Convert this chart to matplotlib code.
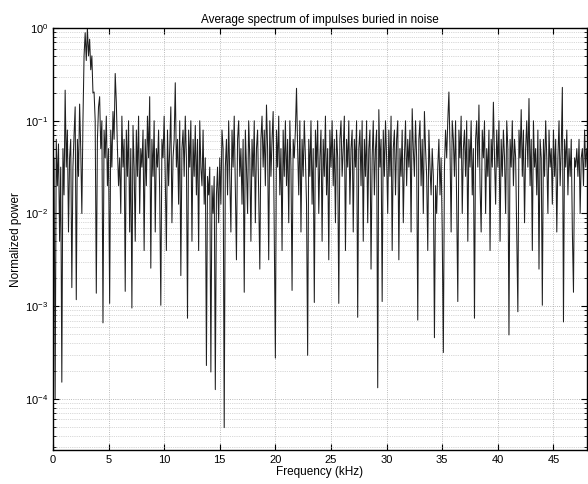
import numpy as np
import matplotlib
matplotlib.use("Agg")
import matplotlib.pyplot as plt
from matplotlib.ticker import LogLocator, NullFormatter

plt.rcParams["font.family"] = ["Liberation Sans", "DejaVu Sans"]
plt.rcParams["mathtext.default"] = "regular"

FREQ_STEP_KHZ = 0.1   # bin spacing of the digitised spectrum
# log10 of normalised power, one row per kHz (10 bins each)
log_power = [
    -1.66, -1.4, -4.0, -1.2, -1.7, -1.25, -2.3, -1.5, -3.82, -1.3,
    -1.8, -0.67, -1.5, -1.1, -2.2, -1.4, -1.2, -2.8, -1.5, -1.15,
    -0.85, -2.93, -1.2, -1.6, -0.82, -1.3, -2.0, -1.0, -0.3, -0.05,
    -0.35, 0.0, -0.3, -0.12, -0.45, -0.3, -0.7, -0.69, -1.0, -2.86,
    -1.2, -0.85, -0.74, -1.3, -1.0, -3.18, -1.1, -1.4, -0.95, -1.7,
    -1.3, -2.97, -1.1, -1.5, -0.9, -1.2, -0.49, -0.8, -1.3, -1.7,
    -1.4, -2.0, -0.95, -1.5, -1.2, -2.84, -1.1, -1.6, -1.0, -2.2,
    -1.3, -3.02, -1.05, -1.5, -2.3, -1.1, -1.6, -0.95, -2.0, -1.3,
    -1.5, -1.1, -2.4, -1.2, -1.7, -0.95, -1.4, -0.74, -2.59, -1.2,
    -1.6, -1.0, -2.2, -1.3, -1.5, -1.1, -1.8, -2.99, -1.2, -1.4,
    -0.95, -1.6, -2.4, -1.1, -1.7, -1.3, -0.85, -2.1, -1.4, -1.2,
    -0.59, -1.5, -1.2, -1.9, -1.0, -2.67, -1.3, -1.1, -1.6, -0.95,
    -1.4, -3.13, -1.1, -1.5, -1.0, -2.3, -1.2, -1.6, -1.05, -1.8,
    -1.2, -2.4, -1.0, -1.5, -1.7, -1.1, -1.9, -1.4, -3.64, -1.6,
    -1.8, -1.5, -3.71, -1.7, -2.0, -1.6, -3.9, -1.8, -1.5, -2.1,
    -1.4, -1.9, -1.1, -1.3, -4.31, -1.5, -1.2, -1.8, -1.0, -1.6,
    -2.2, -1.1, -1.5, -0.95, -1.7, -2.5, -1.2, -1.0, -1.6, -1.3,
    -1.9, -1.2, -2.85, -1.1, -1.5, -2.0, -1.0, -1.4, -2.3, -1.2,
    -1.6, -1.0, -2.1, -1.3, -1.1, -1.8, -2.6, -1.2, -0.95, -1.5,
    -1.1, -1.7, -0.83, -1.3, -2.5, -1.0, -1.6, -1.2, -0.9, -2.2,
    -3.56, -1.1, -1.5, -0.95, -1.8, -1.3, -2.4, -1.1, -1.6, -1.0,
    -1.7, -1.2, -2.1, -1.0, -1.5, -2.83, -1.2, -1.4, -1.1, -0.65,
    -1.3, -1.8, -1.0, -2.2, -1.2, -1.6, -1.0, -1.4, -1.9, -3.53,
    -1.2, -1.6, -1.0, -1.9, -1.3, -2.96, -1.1, -1.5, -1.0, -2.0,
    -1.4, -1.1, -2.3, -1.2, -1.6, -0.95, -1.8, -1.3, -2.5, -1.1,
    -1.5, -1.0, -1.7, -1.2, -2.1, -1.1, -1.4, -2.97, -1.2, -1.0,
    -1.6, -1.3, -0.95, -2.4, -1.2, -1.5, -1.0, -1.9, -1.3, -1.1,
    -2.2, -1.2, -1.5, -1.0, -3.12, -1.3, -1.1, -1.7, -1.0, -2.3,
    -1.2, -1.6, -1.0, -2.1, -1.3, -1.1, -2.6, -1.4, -1.0, -1.8,
    -1.3, -1.1, -3.88, -0.88, -1.5, -1.2, -2.95, -1.1, -1.6, -1.0,
    -1.4, -2.0, -1.1, -1.6, -0.95, -2.4, -1.3, -1.1, -1.8, -1.2,
    -1.0, -2.5, -1.3, -1.6, -1.1, -2.1, -1.4, -1.0, -1.7, -1.2,
    -1.5, -1.1, -2.2, -0.87, -1.3, -1.6, -1.0, -1.4, -3.15, -1.2,
    -1.0, -1.7, -1.2, -2.0, -0.9, -1.3, -1.6, -2.4, -1.1, -1.5,
    -1.8, -1.3, -1.6, -3.34, -1.7, -2.0, -1.5, -1.2, -1.8, -1.4,
    -2.2, -3.5, -1.5, -1.1, -1.4, -1.0, -0.69, -1.3, -2.2, -1.0,
    -1.2, -1.6, -1.0, -1.9, -2.95, -1.1, -1.4, -0.95, -2.0, -1.3,
    -1.1, -1.6, -1.0, -2.3, -1.2, -1.5, -1.0, -1.8, -1.3, -3.13,
    -1.2, -1.0, -1.5, -0.83, -1.7, -2.2, -1.1, -1.4, -1.0, -2.0,
    -1.3, -1.6, -1.1, -2.4, -1.2, -1.5, -0.8, -1.4, -1.9, -1.1,
    -1.5, -1.0, -2.3, -1.2, -1.6, -1.1, -1.4, -2.0, -1.0, -1.3,
    -3.31, -1.2, -1.5, -1.0, -1.7, -1.2, -1.4, -2.2, -3.06, -1.1,
    -1.4, -0.88, -1.6, -1.1, -2.1, -1.3, -1.0, -1.5, -0.76, -1.7,
    -1.2, -2.4, -1.0, -1.5, -1.3, -1.8, -1.1, -2.6, -1.2, -1.4,
    -2.99, -1.2, -1.6, -1.0, -1.4, -2.0, -1.1, -1.5, -1.3, -1.9,
    -1.1, -1.6, -1.2, -2.2, -1.4, -1.0, -1.7, -1.3, -0.64, -3.17,
    -1.2, -1.5, -1.1, -1.8, -1.3, -1.6, -1.2, -2.2, -2.85, -1.4,
    -1.5, -1.3, -1.6, -1.2, -2.0, -1.4, -1.3, -1.7, -1.1, -1.5,
    -1.3,
]

power = 10.0 ** np.asarray(log_power)
freq = np.arange(len(power)) * FREQ_STEP_KHZ

fig = plt.figure(figsize=(5.88, 4.84), dpi=100)
ax = fig.add_axes([0.090, 0.070, 0.908, 0.872])
ax.semilogy(freq, power, color="0.12", lw=0.75)
ax.set_xlim(0, 48)
ax.set_ylim(2.8e-5, 1.0)
ax.set_xticks(range(0, 50, 5))
ax.yaxis.set_major_locator(LogLocator(base=10, numticks=10))
ax.yaxis.set_minor_locator(LogLocator(base=10, subs=np.arange(2, 10), numticks=10))
ax.yaxis.set_minor_formatter(NullFormatter())
ax.grid(which="major", color="0.65", ls=":", lw=0.6)
ax.grid(which="minor", axis="y", color="0.7", ls=":", lw=0.5)
ax.tick_params(which="both", direction="in", top=True, right=True, labelsize=8)
ax.tick_params(which="major", length=4)
ax.tick_params(which="minor", length=2)
for sp in ax.spines.values():
    sp.set_linewidth(1.0)
ax.set_title("Average spectrum of impulses buried in noise", fontsize=8.5, pad=4)
ax.set_xlabel("Frequency (kHz)", fontsize=8.5, labelpad=1)
ax.set_ylabel("Normalized power", fontsize=8.5, labelpad=2)
fig.savefig("out.png", dpi=100)
